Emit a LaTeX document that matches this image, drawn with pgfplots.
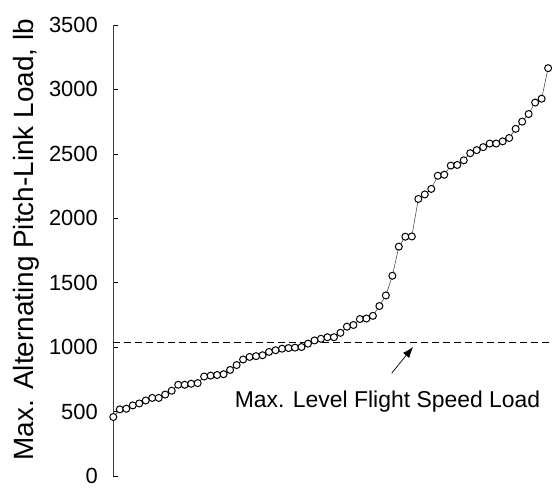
\documentclass[border=0pt]{standalone}
\usepackage{pgfplots}
\pgfplotsset{compat=1.18}
\usepackage{fontspec}
\setmainfont{Liberation Sans}
\usetikzlibrary{arrows.meta}

\pgfplotstableread{
x y
0 458
1 517
2 522
3 548
4 563
5 586
6 606
7 606
8 632
9 662
10 708
11 708
12 716
13 721
14 772
15 779
16 784
17 790
18 823
19 861
20 904
21 924
22 930
23 937
24 963
25 976
26 988
27 993
28 996
29 1001
30 1027
31 1052
32 1065
33 1077
34 1077
35 1111
36 1159
37 1172
38 1218
39 1222
40 1243
41 1319
42 1401
43 1554
44 1780
45 1857
46 1859
47 2150
48 2185
49 2228
50 2330
51 2338
52 2409
53 2414
54 2450
55 2505
56 2529
57 2552
58 2580
59 2580
60 2597
61 2623
62 2694
63 2750
64 2809
65 2898
66 2928
67 3165
}\loads

\begin{document}
\begin{tikzpicture}
\begin{axis}[
  scale only axis, width=438.7bp, height=451bp,
  xmin=0, xmax=67.6, ymin=0, ymax=3500,
  axis x line=none, axis y line=left, axis line style={-},
  y axis line style={black!75, line width=0.6bp},
  ytick={0,500,...,3500}, xtick=\empty,
  tick align=inside, major tick length=4.5bp,
  ytick style={black, line width=0.6bp},
  yticklabel style={font=\fontsize{22}{26}\selectfont, xshift=-12bp},
  /pgf/number format/assume math mode=true,
  /pgf/number format/1000 sep={},
  clip=false,
]
\addplot[black, dash pattern=on 7bp off 4bp, line width=0.8bp] coordinates {(0,1040) (67.6,1040)};
\addplot[black!80, line width=0.5bp, mark=*, mark size=3.5bp,
  mark options={fill=white, draw=black, line width=1bp, solid}] table[x=x,y=y] {\loads};
\draw[-{Latex[length=11bp,width=8bp]}, line width=0.7bp] (axis cs:42.9,798) -- (axis cs:46.2,1002);
\node[anchor=base, font=\fontsize{23}{28}\selectfont, inner sep=0pt] at (axis cs:42.25,533) {Max. Level Flight Speed Load};
\node[rotate=90, anchor=base, font=\fontsize{28}{33}\selectfont, inner sep=0pt] at (axis cs:-12.37,1833) {Max. Alternating Pitch-Link Load, lb};
\coordinate (bl) at (rel axis cs:0,0);
\coordinate (tr) at (rel axis cs:1,1);
\end{axis}
\pgfresetboundingbox
\path[use as bounding box] ([shift={(-113.3bp,-13bp)}]bl) rectangle ([shift={(0bp,25bp)}]tr);
\end{tikzpicture}
\end{document}
